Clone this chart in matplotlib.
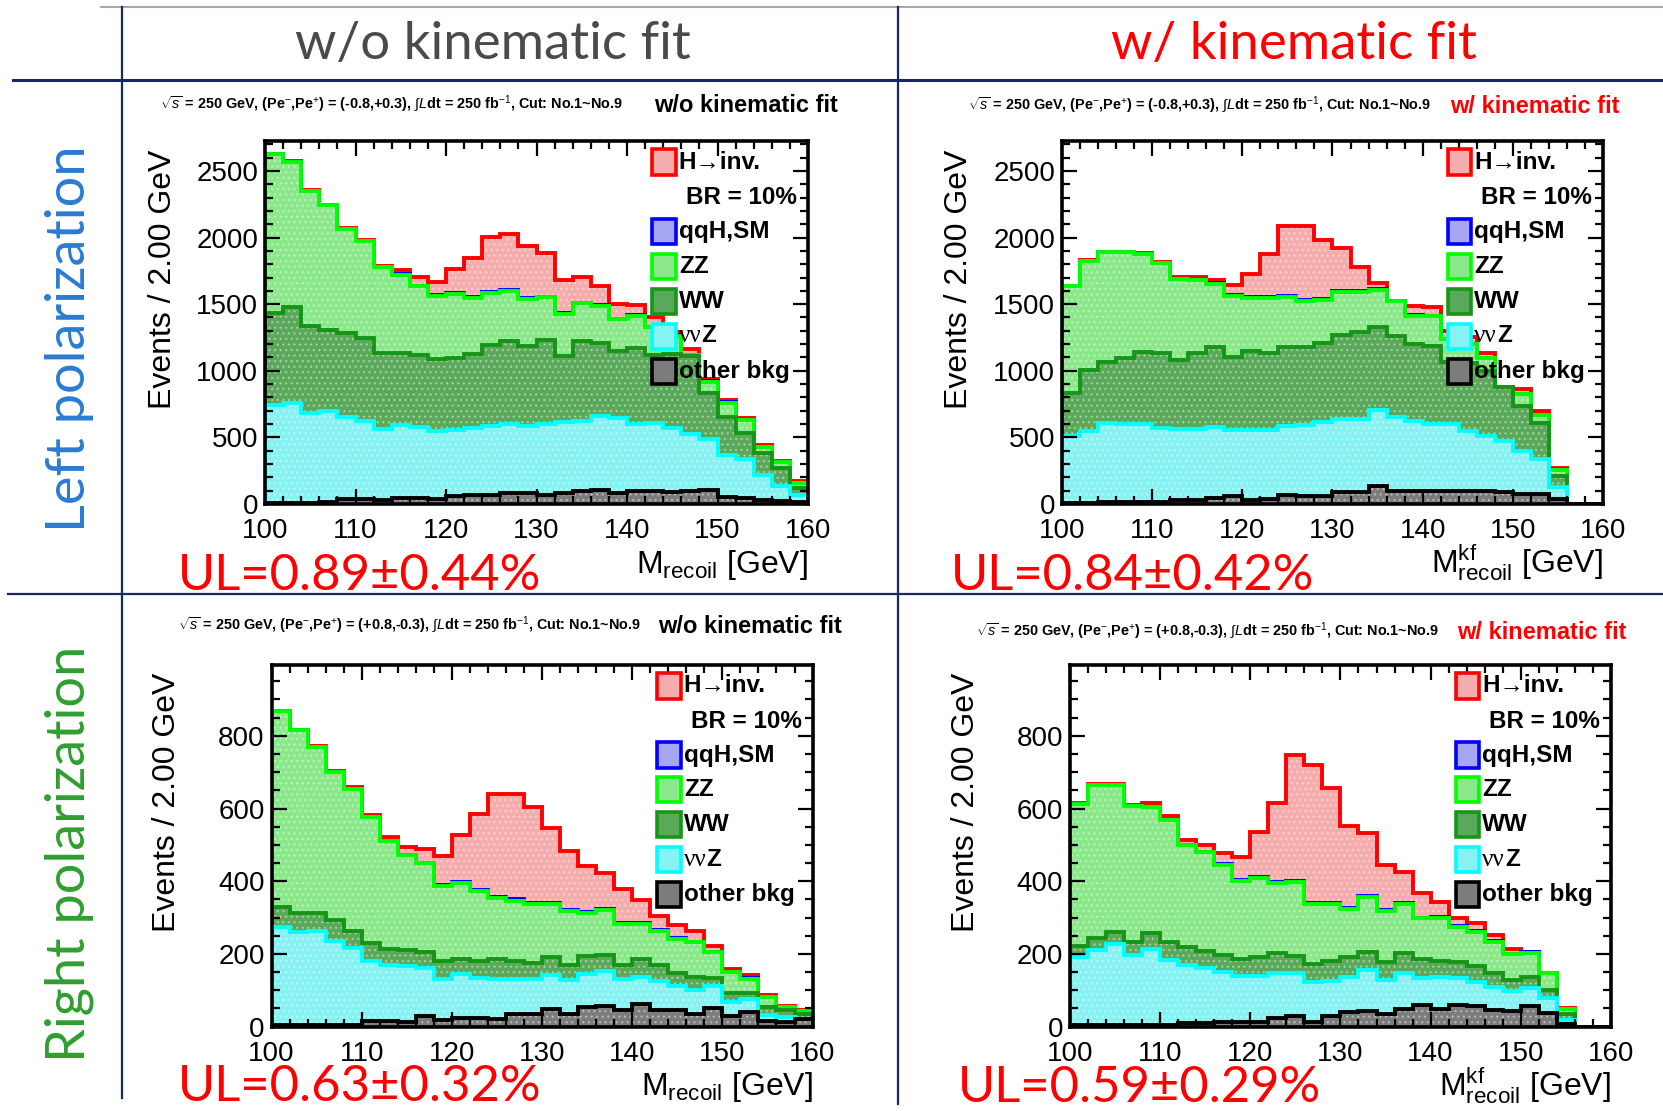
import numpy as np
import matplotlib
matplotlib.use('Agg')
import matplotlib.pyplot as plt
from matplotlib.lines import Line2D
from matplotlib.patches import Rectangle
from matplotlib.ticker import MultipleLocator
from matplotlib.transforms import ScaledTranslation
from matplotlib import font_manager

# recoil mass binning, 2 GeV bins from 100 to 160 GeV
edges = np.arange(100, 162, 2)

# stack heights (events / 2 GeV), bottom layer first.
# qqH,SM is given as its own (small) contribution on top of ZZ.

# Left polarization, w/o kinematic fit
lo_other = [8, 8, 10, 15, 38, 38, 33, 45, 45, 40, 58, 70, 65, 83, 83, 70, 83, 95, 108, 83, 95, 100, 90, 95, 108, 50, 45, 33, 25, 15]
lo_nnz = [743, 761, 685, 698, 655, 622, 560, 592, 577, 547, 555, 572, 585, 597, 585, 597, 617, 622, 660, 643, 597, 610, 572, 522, 484, 371, 334, 221, 133, 70]
lo_ww = [1431, 1476, 1338, 1308, 1280, 1245, 1132, 1132, 1119, 1087, 1099, 1124, 1192, 1220, 1187, 1232, 1112, 1220, 1212, 1145, 1170, 1119, 1124, 1112, 836, 653, 535, 384, 271, 120]
lo_zz = [2625, 2568, 2347, 2241, 2061, 1973, 1777, 1722, 1634, 1559, 1576, 1544, 1586, 1596, 1539, 1551, 1426, 1506, 1488, 1388, 1413, 1325, 1263, 1119, 919, 761, 628, 427, 316, 158]
lo_qqh = [0, 0, 0, 0, 0, 3, 4, 5, 6, 8, 8, 8, 8, 8, 7, 6, 6, 5, 5, 4, 4, 4, 3, 3, 2, 2, 1, 1, 1, 0]
lo_hinv = [2630, 2575, 2355, 2248, 2068, 1985, 1785, 1757, 1702, 1664, 1765, 1845, 2003, 2028, 1940, 1883, 1684, 1702, 1639, 1501, 1496, 1406, 1288, 1162, 936, 778, 643, 442, 321, 171]

# Left polarization, w/ kinematic fit
lk_other = [8, 10, 12, 12, 15, 15, 33, 33, 45, 58, 33, 40, 70, 58, 63, 90, 90, 135, 100, 100, 95, 100, 100, 100, 90, 76, 76, 35, 0, 0]
lk_nnz = [510, 547, 605, 597, 597, 572, 565, 565, 580, 555, 555, 555, 585, 592, 615, 635, 635, 705, 650, 625, 600, 600, 550, 512, 475, 400, 338, 125, 0, 0]
lk_ww = [836, 1007, 1062, 1094, 1142, 1130, 1079, 1137, 1182, 1104, 1150, 1137, 1175, 1175, 1205, 1270, 1288, 1325, 1262, 1200, 1185, 1068, 1060, 1000, 880, 737, 605, 213, 0, 0]
lk_zz = [1634, 1822, 1890, 1890, 1880, 1812, 1689, 1682, 1652, 1564, 1544, 1546, 1556, 1526, 1531, 1589, 1589, 1606, 1520, 1411, 1411, 1235, 1200, 1095, 865, 825, 670, 258, 0, 0]
lk_qqh = [0, 0, 0, 0, 0, 0, 0, 2, 4, 5, 6, 7, 8, 8, 8, 7, 6, 5, 4, 4, 3, 3, 3, 2, 2, 2, 1, 0, 0, 0]
lk_hinv = [1639, 1832, 1895, 1895, 1885, 1820, 1702, 1707, 1684, 1644, 1727, 1877, 2086, 2086, 1978, 1923, 1782, 1660, 1498, 1486, 1478, 1300, 1250, 1133, 875, 861, 700, 272, 0, 0]

# Right polarization, w/o kinematic fit
ro_other = [5, 5, 5, 5, 5, 16, 16, 14, 29, 18, 25, 25, 21, 34, 36, 48, 36, 53, 57, 46, 61, 46, 46, 34, 50, 30, 41, 16, 14, 20]
ro_nnz = [275, 260, 264, 237, 216, 180, 171, 166, 162, 132, 146, 134, 132, 132, 132, 141, 128, 146, 153, 130, 138, 126, 111, 102, 111, 68, 76, 32, 27, 21]
ro_ww = [330, 314, 312, 293, 262, 230, 214, 212, 205, 180, 187, 180, 185, 180, 176, 191, 171, 194, 196, 171, 185, 169, 148, 138, 135, 94, 94, 53, 46, 36]
ro_zz = [867, 815, 770, 700, 654, 577, 510, 472, 449, 387, 394, 372, 353, 346, 337, 337, 317, 312, 322, 282, 282, 264, 241, 232, 205, 150, 132, 82, 53, 43]
ro_qqh = [0, 0, 0, 0, 0, 0, 0, 1, 2, 3, 3, 4, 4, 4, 4, 4, 3, 3, 3, 2, 2, 2, 2, 2, 1, 1, 1, 0, 0, 0]
ro_hinv = [869, 817, 772, 703, 658, 581, 521, 495, 490, 469, 527, 586, 640, 640, 604, 547, 483, 442, 424, 378, 348, 305, 280, 264, 223, 158, 141, 88, 56, 46]

# Right polarization, w/ kinematic fit
rk_other = [4, 4, 4, 4, 5, 5, 9, 9, 14, 12, 12, 23, 28, 14, 30, 39, 44, 35, 48, 60, 48, 60, 56, 47, 42, 56, 37, 8, 0, 0]
rk_nnz = [191, 212, 227, 197, 214, 184, 171, 161, 151, 140, 140, 148, 148, 122, 127, 138, 157, 128, 149, 135, 137, 133, 122, 110, 99, 106, 79, 19, 0, 0]
rk_ww = [223, 243, 261, 232, 257, 232, 220, 209, 197, 186, 191, 202, 195, 172, 182, 191, 206, 177, 202, 185, 182, 177, 168, 149, 129, 136, 100, 36, 0, 0]
rk_zz = [612, 666, 666, 608, 603, 569, 501, 480, 445, 400, 408, 395, 397, 337, 337, 324, 356, 317, 338, 298, 300, 275, 261, 234, 200, 204, 149, 48, 0, 0]
rk_qqh = [0, 0, 0, 0, 0, 0, 0, 1, 2, 3, 3, 4, 4, 4, 4, 3, 3, 3, 2, 2, 2, 2, 1, 1, 1, 1, 0, 0, 0, 0]
rk_hinv = [615, 668, 668, 611, 615, 579, 514, 501, 477, 466, 535, 615, 747, 720, 656, 551, 533, 444, 425, 368, 342, 298, 286, 252, 214, 206, 149, 51, 0, 0]

legend_labels = ['H\u2192inv.', 'qqH,SM', 'ZZ', 'WW', '\u03bd\u03bdZ', 'other bkg']
upper_limits = ['UL=0.89\u00b10.44%', 'UL=0.84\u00b10.42%', 'UL=0.63\u00b10.32%', 'UL=0.59\u00b10.29%']
pol_text = ['(Pe$^{-}$,Pe$^{+}$) = (-0.8,+0.3)', '(Pe$^{-}$,Pe$^{+}$) = (+0.8,-0.3)']

# bottom -> top: other, nnZ, WW, ZZ, qqH, H->inv
FILLS = ['#7c7c7c', '#86f2f2', '#5aa85a', '#8ae88a', '#a6a6f2', '#f4acac']
LINES = ['#000000', '#00ffff', '#169616', '#00ff00', '#0000ff', '#ff0000']
NAVY = '#17286a'

installed = {f.name for f in font_manager.fontManager.ttflist}


def first_font(*names):
    for n in names:
        if n in installed:
            return n
    return 'DejaVu Sans'


SANS = first_font('Liberation Sans', 'Arimo', 'DejaVu Sans')
NARROW = first_font('Liberation Sans Narrow', 'Arimo')
THIN = first_font('Lato', 'Open Sans', 'Noto Sans')
SERIF = first_font('Liberation Serif', 'DejaVu Serif')
small_size = 11.8 if NARROW == 'Liberation Sans Narrow' else 10.4
if NARROW == 'DejaVu Sans':
    NARROW = SANS

plt.rcParams['font.family'] = [SANS, 'DejaVu Sans']
plt.rcParams['mathtext.fontset'] = 'custom'
plt.rcParams['mathtext.rm'] = SANS
plt.rcParams['mathtext.it'] = SANS + ':italic'
plt.rcParams['mathtext.bf'] = SANS + ':bold'

fig = plt.figure(figsize=(16.63, 11.11), dpi=100)


def draw_panel(rect, layers, ymax, ymajor, yminor, xlabel, ylab_x):
    other, nnz, ww, zz, qqh, hinv = [np.asarray(a, float) for a in layers]
    levels = [other, nnz, ww, zz, zz + qqh, np.maximum(hinv, zz + qqh)]
    ax = fig.add_axes(rect)
    # ROOT style THStack: draw cumulative histograms from the top down
    for lev, fc, lc in reversed(list(zip(levels, FILLS, LINES))):
        ax.stairs(lev, edges, baseline=0, fill=True, facecolor=fc,
                  edgecolor=(1, 1, 1, 0.35), hatch='...', lw=0)
        ax.stairs(lev, edges, baseline=0, color=lc, lw=2.8)
    ax.set_xlim(100, 160)
    ax.set_ylim(0, ymax)
    ax.xaxis.set_major_locator(MultipleLocator(10))
    ax.xaxis.set_minor_locator(MultipleLocator(2))
    ax.yaxis.set_major_locator(MultipleLocator(ymajor))
    ax.yaxis.set_minor_locator(MultipleLocator(yminor))
    ax.tick_params(which='both', direction='in', top=True, right=True, width=1.6,
                   labelsize=20, colors='black')
    ax.tick_params(which='major', length=11)
    ax.tick_params(which='minor', length=5.5)
    ax.tick_params(axis='x', pad=10)
    ax.tick_params(axis='y', pad=5)
    for s in ax.spines.values():
        s.set_linewidth(2.6)
    ax.set_ylabel('Events / 2.00 GeV', fontsize=23)
    ax.yaxis.set_label_coords(ylab_x, 0.62)
    ax.text(1.0, -0.19, xlabel, transform=ax.transAxes, ha='right', va='baseline', fontsize=23)

    # lift the "0" y label a little so it sits just above "100"
    fig.canvas.draw()
    lab0 = ax.yaxis.get_majorticklabels()[0]
    lab0.set_transform(lab0.get_transform() + ScaledTranslation(0, 5 / 72, fig.dpi_scale_trans))

    # legend
    ys = [0.942, 0.751, 0.655, 0.558, 0.462, 0.365]
    for i, (lab, y) in enumerate(zip(legend_labels, ys)):
        k = 5 - i
        ax.add_patch(Rectangle((0.713, y - 0.035), 0.043, 0.07, transform=ax.transAxes,
                               facecolor=FILLS[k], edgecolor=LINES[k], lw=2.6, zorder=5))
        if lab.startswith('\u03bd'):
            t1 = ax.text(0.762, y, lab[:2], transform=ax.transAxes, ha='left', va='center',
                         fontsize=18, family=SERIF, zorder=6)
            ax.annotate(lab[2:], xy=(1, 0), xycoords=t1, ha='left', va='bottom',
                        fontsize=17.5, weight='bold', zorder=6)
        else:
            ax.text(0.762, y, lab, transform=ax.transAxes, ha='left', va='center',
                    fontsize=17.5, weight='bold', zorder=6, family=[SANS, 'DejaVu Sans'])
    ax.text(0.98, 0.845, 'BR = 10%', transform=ax.transAxes, ha='right', va='center',
            fontsize=17.5, weight='bold', zorder=6)
    return ax


mreco = r'M$_{\mathregular{recoil}}$ [GeV]'
mreco_kf = r'M$^{\mathregular{kf}}_{\mathregular{recoil}}$ [GeV]'

draw_panel([0.1594, 0.5464, 0.3265, 0.3267], [lo_other, lo_nnz, lo_ww, lo_zz, lo_qqh, lo_hinv],
           2725, 500, 100, mreco, -0.16)
draw_panel([0.6386, 0.5464, 0.3253, 0.3267], [lk_other, lk_nnz, lk_ww, lk_zz, lk_qqh, lk_hinv],
           2725, 500, 100, mreco_kf, -0.163)
draw_panel([0.1633, 0.0759, 0.3253, 0.3256], [ro_other, ro_nnz, ro_ww, ro_zz, ro_qqh, ro_hinv],
           995, 200, 50, mreco, -0.165)
draw_panel([0.6434, 0.0759, 0.3253, 0.3256], [rk_other, rk_nnz, rk_ww, rk_zz, rk_qqh, rk_hinv],
           995, 200, 50, mreco_kf, -0.165)

# small run-condition headers above each panel
for (x, y, xb, col, pol, fit) in [(0.0960, 0.906, 0.504, 'black', 0, 'w/o kinematic fit'),
                                  (0.582, 0.905, 0.974, 'red', 0, 'w/ kinematic fit'),
                                  (0.107, 0.437, 0.506, 'black', 1, 'w/o kinematic fit'),
                                  (0.587, 0.432, 0.978, 'red', 1, 'w/ kinematic fit')]:
    s = (r'$\sqrt{s}$ = 250 GeV, ' + pol_text[pol] +
         r', $\int$$L$dt = 250 fb$^{-1}$, Cut: No.1~No.9')
    fig.text(x, y, s, ha='left', va='center', fontsize=small_size, weight='bold', family=NARROW)
    fig.text(xb, y - 0.001, fit, ha='right', va='center', fontsize=17, weight='bold', color=col)

# upper limits
for (x, y), s in zip([(0.107, 0.469), (0.572, 0.469), (0.107, 0.009), (0.576, 0.008)], upper_limits):
    fig.text(x, y, s, ha='left', va='baseline', fontsize=36.5, color='#ff0000',
             family=THIN, weight='normal')

# column and row headers
fig.text(0.2965, 0.960, 'w/o kinematic fit', ha='center', va='center', fontsize=38,
         color='#4a4a4a', family=THIN, weight='normal')
fig.text(0.778, 0.960, 'w/ kinematic fit', ha='center', va='center', fontsize=38,
         color='#ff0000', family=THIN, weight='normal')
fig.text(0.0415, 0.695, 'Left polarization', ha='center', va='center', rotation=90,
         fontsize=39, color='#2a7bd2', family=THIN, weight='normal')
fig.text(0.0415, 0.231, 'Right polarization', ha='center', va='center', rotation=90,
         fontsize=39, color='#2f9f2f', family=THIN, weight='normal')

# table grid lines
fig.add_artist(Line2D([0.0607, 1.0], [0.9937, 0.9937], color='#a8a8a8', lw=1.5))
fig.add_artist(Line2D([0.0734, 0.0734], [0.9937, 0.012], color=NAVY, lw=1.6))
fig.add_artist(Line2D([0.540, 0.540], [0.9937, 0.006], color=NAVY, lw=1.6))
fig.add_artist(Line2D([0.008, 1.0], [0.9284, 0.9284], color=NAVY, lw=2.2))
fig.add_artist(Line2D([0.005, 1.0], [0.4653, 0.4653], color=NAVY, lw=1.6))

fig.savefig('out.png', dpi=100)
